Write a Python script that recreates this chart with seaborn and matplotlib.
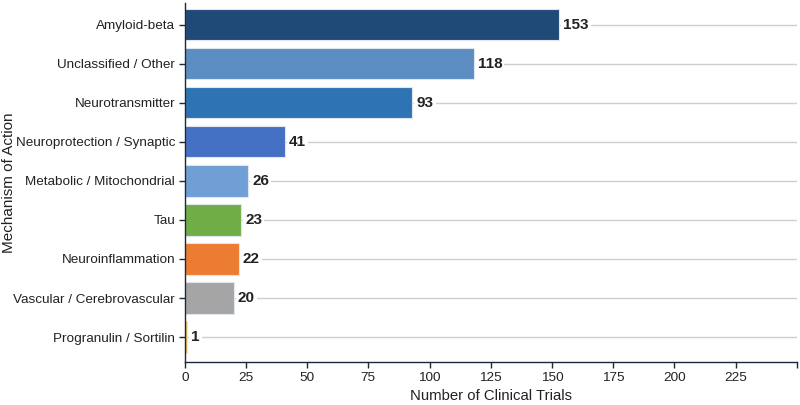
import pandas as pd
import seaborn as sns
import matplotlib.pyplot as plt

mechanisms = [
    "Amyloid-beta",
    "Unclassified / Other",
    "Neurotransmitter",
    "Neuroprotection / Synaptic",
    "Metabolic / Mitochondrial",
    "Tau",
    "Neuroinflammation",
    "Vascular / Cerebrovascular",
    "Progranulin / Sortilin",
]
trial_counts = [153, 118, 93, 41, 26, 23, 22, 20, 1]
bar_colors = [
    "#1f4a78", "#5b8dc2", "#2e74b5", "#4571c4", "#6f9fd5",
    "#71ad47", "#ec7c31", "#a5a5a5", "#f2c04a",
]
x_ticks = list(range(0, 251, 25))

df = pd.DataFrame({"mechanism": mechanisms, "trials": trial_counts})

sns.set_style("white")
plt.rcParams["font.family"] = ["Liberation Sans", "DejaVu Sans"]

fig = plt.figure(figsize=(8, 4.05), dpi=100)
ax = fig.add_axes([0.231, 0.106, 0.765, 0.887])

sns.barplot(
    data=df,
    x="trials",
    y="mechanism",
    hue="mechanism",
    palette=bar_colors,
    saturation=1,
    legend=False,
    width=0.8,
    edgecolor="#dfe6ee",
    linewidth=0.8,
    zorder=2,
    ax=ax,
)

# horizontal guide lines through every bar
ax.yaxis.grid(True, color="#cfcfcf", linewidth=1.0, zorder=0)
ax.set_axisbelow(True)

for i, v in enumerate(trial_counts):
    ax.text(
        v + 1.6, i, str(v),
        va="center", ha="left", fontsize=11, fontweight="bold", color="#222222",
        bbox=dict(facecolor="white", edgecolor="none", pad=1.5),
        zorder=3,
    )

ax.set_xlim(0, 250)
ax.set_ylim(8.64, -0.56)
ax.set_xticks(x_ticks)
ax.set_xticklabels([str(t) if t < 250 else "" for t in x_ticks])

for side in ["top", "right"]:
    ax.spines[side].set_visible(False)
for side in ["left", "bottom"]:
    ax.spines[side].set_color("#1b2a3a")
    ax.spines[side].set_linewidth(1.0)

ax.tick_params(axis="both", which="major", length=4, width=1, color="#1b2a3a",
               labelsize=9.7, labelcolor="#222222", bottom=True, left=True)
ax.tick_params(axis="y", pad=3)

ax.set_xlabel("Number of Clinical Trials", fontsize=10.7, color="#222222", labelpad=3)
ax.set_ylabel("Mechanism of Action", fontsize=11, color="#222222")
ax.yaxis.set_label_coords(-0.275, 0.5)

fig.savefig("out.png", dpi=100)
